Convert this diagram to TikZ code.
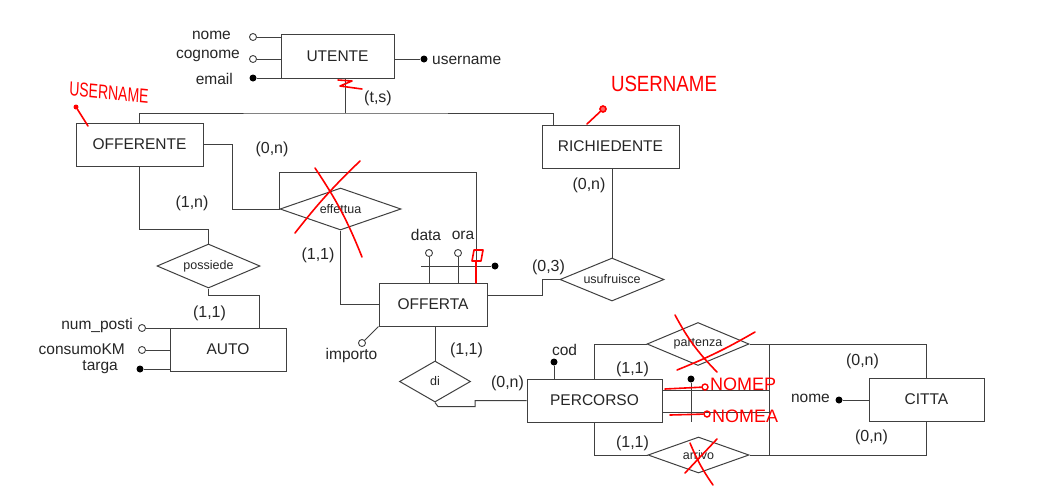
\documentclass[tikz,border=0pt]{standalone}
\usepackage{fontspec}
\setmainfont{Liberation Sans}
\usetikzlibrary{shapes.geometric}
\begin{document}
\begin{tikzpicture}[x=1pt,y=-1pt,
  ln/.style={draw=black!75,line width=1pt},
  entity/.style={draw=black!75,line width=1pt,rectangle,inner sep=0pt,font=\fontsize{15.5}{18}\selectfont,text=black!85},
  rel/.style={draw=black!75,line width=1pt,diamond,aspect=2.5,inner sep=0pt,font=\fontsize{12.5}{15}\selectfont,text=black!85},
  attro/.style={circle,draw=black!75,line width=0.9pt,fill=white,inner sep=0pt,minimum size=7pt},
  attrf/.style={circle,fill=black,inner sep=0pt,minimum size=7pt},
  lbl/.style={font=\fontsize{15.5}{18}\selectfont,text=black!85,inner sep=0pt},
  card/.style={font=\fontsize{16}{18}\selectfont,text=black!85,inner sep=0pt},
  ink/.style={draw=red,line width=1.6pt,line cap=round,line join=round},
  inktxt/.style={text=red,inner sep=0pt}
]
\useasboundingbox[fill=white] (0,0) rectangle (1062,491);

% entities
\node[entity,minimum width=113pt,minimum height=44pt] (utente) at (337.5,56) {UTENTE};
\node[entity,minimum width=127pt,minimum height=43pt] (offerente) at (139.5,144.5) {OFFERENTE};
\node[entity,minimum width=137pt,minimum height=43pt] (richiedente) at (610.5,146.5) {RICHIEDENTE};
\node[entity,minimum width=108pt,minimum height=43pt] (offerta) at (433,304.5) {OFFERTA};
\node[entity,minimum width=116pt,minimum height=43pt] (auto) at (228,349.5) {AUTO};
\node[entity,minimum width=135pt,minimum height=43pt] (percorso) at (594.5,400.5) {PERCORSO};
\node[entity,minimum width=115pt,minimum height=43pt] (citta) at (926.5,399.5) {CITTA};

% relationships
\node[rel,minimum width=121pt,minimum height=42pt] (effettua) at (340.5,209) {effettua};
\node[rel,minimum width=103pt,minimum height=44pt] (possiede) at (208.5,266) {possiede};
\node[rel,minimum width=104pt,minimum height=43pt] (usufruisce) at (612,279.5) {usufruisce};
\node[rel,minimum width=71pt,minimum height=41pt] (di) at (435,381.5) {di};
\node[rel,minimum width=102pt,minimum height=43pt] (partenza) at (698,344) {partenza};
\node[rel,minimum width=101pt,minimum height=36pt] (arrivo) at (698.5,455) {arrivo};

% generalization
\coordinate (gen) at (345,113);
\draw[ln] ([xshift=7.5pt]utente.south) -- (gen);
\draw[ln] (offerente.north) |- (gen) -| ([xshift=-57.5pt]richiedente.north);
\node[card] (ts) at (378,98) {(t,s)};

% UTENTE attributes
\node[attro] (unome) at (253,37) {};
\node[attro] (ucognome) at (253,59) {};
\node[attrf] (uemail) at (253,78) {};
\node[attrf] (uuser) at (424,59) {};
\draw[ln] (unome) -- (unome -| utente.west);
\draw[ln] (ucognome) -- (ucognome -| utente.west);
\draw[ln] (uemail) -- (uemail -| utente.west);
\draw[ln] (uuser) -- (uuser -| utente.east);
\node[lbl,anchor=east] (lnome) at (231,35) {nome};
\node[lbl,anchor=east] (lcognome) at (240,56) {cognome};
\node[lbl,anchor=east] (lemail) at (233,79) {email};
\node[lbl,anchor=west] (luser) at (432,60) {username};

% OFFERENTE - possiede - AUTO
\draw[ln] (offerente.south) -- ++(0,63) -| (possiede.north);
\draw[ln] (possiede.south) -- ++(0,7) -| ([xshift=31pt]auto.north);
\node[card] (c1n) at (192,203) {(1,n)};
\node[card] (c11a) at (209.5,313) {(1,1)};

% AUTO attributes
\node[attro] (anum) at (142,328) {};
\node[attro] (acons) at (142,350) {};
\node[attrf] (atarga) at (140,369) {};
\draw[ln] (anum) -- (anum -| auto.west);
\draw[ln] (acons) -- (acons -| auto.west);
\draw[ln] (atarga) -- (atarga -| auto.west);
\node[lbl,anchor=east] (lnum) at (133,325) {num\_posti};
\node[lbl,anchor=east] (lcons) at (125,349) {consumoKM};
\node[lbl,anchor=east] (ltarga) at (118,367) {targa};

% OFFERENTE - effettua - OFFERTA
\draw[ln] (offerente.east) -- ++(29,0) |- (effettua.west);
\draw[ln] (effettua.south) |- (offerta.west);
\coordinate (er) at (476,172);
\draw[ln] (effettua.west) |- (er) -- (er |- offerta.north);
\node[card] (c0ne) at (272,149) {(0,n)};
\node[card] (c11e) at (318,255) {(1,1)};

% OFFERTA attributes
\node[attro] (odata) at (429,253) {};
\node[attro] (oora) at (458,253) {};
\draw[ln] (odata) -- (odata |- offerta.north);
\draw[ln] (oora) -- (oora |- offerta.north);
\coordinate (oidl) at (421,266);
\node[attrf] (oid) at (495,266) {};
\draw[ln] (oidl) -- (oid);
\node[lbl] (ldata) at (426,235) {data};
\node[lbl] (lora) at (463,235) {ora};
\node[attro] (oimp) at (362,343) {};
\draw[ln] (oimp) -- (offerta.south west);
\node[lbl] (limp) at (351.5,355) {importo};

% OFFERTA - usufruisce - RICHIEDENTE
\draw[ln] ([yshift=9.5pt]offerta.east) -- ++(55,0) |- (usufruisce.west);
\draw[ln] (usufruisce.north |- richiedente.south) -- (usufruisce.north);
\node[card] (c03) at (548.5,267) {(0,3)};
\node[card] (c0nr) at (589,185) {(0,n)};

% OFFERTA - di - PERCORSO
\draw[ln] (di.north |- offerta.south) -- (di.north);
\draw[ln] (di.south) -- ++(3,4) -- ++(37,0) |- (percorso.west);
\node[card] (c11d) at (466.5,350) {(1,1)};
\node[card] (c0nd) at (507.5,383) {(0,n)};

% PERCORSO attributes
\node[attrf] (pcod) at (554,362) {};
\draw[ln] (pcod) -- (pcod |- percorso.north);
\node[lbl] (lcod) at (564.5,350) {cod};

% PERCORSO - partenza/arrivo - CITTA
\draw[ln] (percorso.north) |- (partenza.west);
\draw[ln] (partenza.east) -| (citta.north);
\draw[ln] (percorso.south) |- (arrivo.west);
\draw[ln] (arrivo.east) -| (citta.south);
\coordinate (vt) at (769,344);
\coordinate (vb) at (769,456);
\draw[ln] (vt) -- (vb);
\draw[ln] ([yshift=10.5pt]percorso.east) -- ([yshift=10.5pt]percorso.east -| vt);
\draw[ln] ([yshift=-11.5pt]percorso.east) -- ([yshift=-11.5pt]percorso.east -| vt);
\node[attrf] (pid) at (691,379) {};
\coordinate (pidb) at (691,422);
\draw[ln] (pid) -- (pidb);
\node[card] (c11p) at (632.5,369) {(1,1)};
\node[card] (c11r) at (632.5,443) {(1,1)};
\node[card] (c0nc1) at (862.5,361) {(0,n)};
\node[card] (c0nc2) at (871.5,437) {(0,n)};

% CITTA attribute
\node[attrf] (cnome) at (839,400) {};
\draw[ln] (cnome) -- (cnome -| citta.west);
\node[lbl,anchor=east] (lcnome) at (830,398) {nome};

% red annotations
\node[inktxt,font=\fontsize{20}{20}\selectfont,xscale=0.7,rotate=-4] (r1) at (109,93) {USERNAME};
\node[circle,fill=red,inner sep=0pt,minimum size=5pt] (r1d) at (76,107) {};
\coordinate (r1e) at (88,126);
\draw[ink] (r1d) -- (r1e);
\node[inktxt,font=\fontsize{22}{22}\selectfont,xscale=0.85] (r2) at (664,84) {USERNAME};
\node[circle,draw=red,line width=1.6pt,fill=red!60,inner sep=0pt,minimum size=6pt] (r2d) at (603,109) {};
\coordinate (r2e) at (587,124);
\draw[ink] (r2d) -- (r2e);
\draw[ink] (338,80) -- (352,81) -- (340,86) -- (362,89);
\draw[ink] (315,168) to[bend left=6] (362,257);
\draw[ink] (360,161) to[bend right=4] (295,233);
\draw[ink] (474,250) -- (483,250) -- (481,261) -- (472,261) -- cycle;
\draw[ink] (476,261) -- (476,283);
\draw[ink] (675,315) to[bend right=8] (717,372);
\draw[ink] (755,332) to[bend left=4] (677,370);
\draw[ink] (717,439) -- (685,473);
\draw[ink] (690,443) to[bend right=6] (713,485);
\coordinate (rp1) at (665,389);
\node[circle,draw=red,line width=1.4pt,inner sep=0pt,minimum size=6pt] (rpc) at (705,387) {};
\draw[ink] (rp1) -- (rpc);
\node[inktxt,font=\fontsize{18}{18}\selectfont,anchor=west] (rpt) at (710,384) {NOMEP};
\coordinate (ra1) at (670,415);
\node[circle,draw=red,line width=1.4pt,inner sep=0pt,minimum size=6pt] (rac) at (707,414) {};
\draw[ink] (ra1) -- (rac);
\node[inktxt,font=\fontsize{18}{18}\selectfont,anchor=west] (rat) at (712,416) {NOMEA};
\end{tikzpicture}
\end{document}
